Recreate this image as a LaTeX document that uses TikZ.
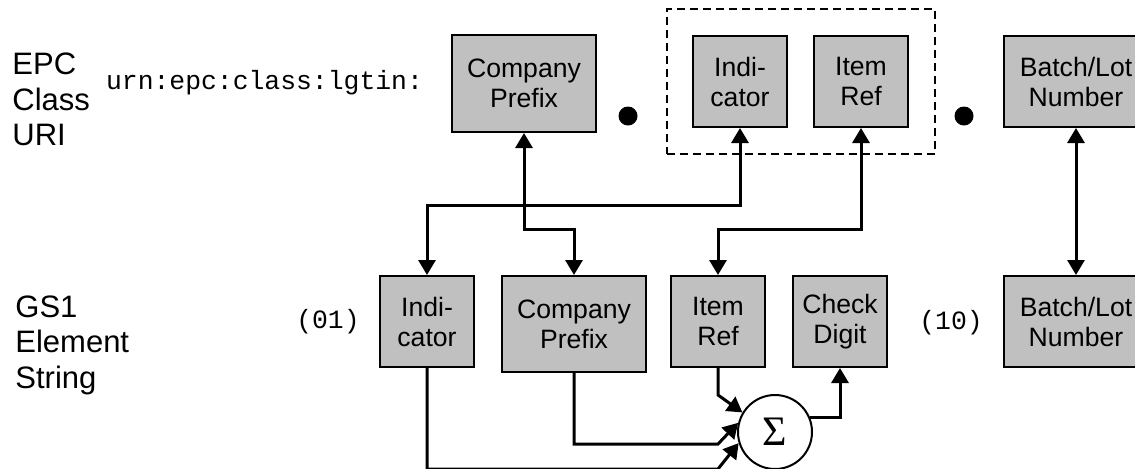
\documentclass[tikz,border=0pt]{standalone}
\usepackage{fontspec}
\setmainfont{Liberation Sans}
\setmonofont{Liberation Mono}
\newfontfamily\sigmafont{Liberation Serif}
\usetikzlibrary{arrows.meta, positioning, fit, calc}
\definecolor{fieldgray}{RGB}{192,192,192}

\begin{document}
\begin{tikzpicture}[x=0.5pt, y=-0.5pt,
        field/.style={draw, line width=1pt, fill=fieldgray, align=center, inner sep=0pt,
            minimum width=47pt, minimum height=45.5pt, font=\fontsize{13.3pt}{15pt}\selectfont},
        widefield/.style={field, minimum width=72pt},
        dot/.style={circle, fill, inner sep=0pt, minimum size=9.5pt},
        group/.style={draw, line width=1pt, dash pattern=on 4pt off 2.5pt, inner xsep=12.75pt, inner ysep=13pt},
        adder/.style={circle, draw, line width=1pt, inner sep=0pt, minimum size=37pt,
            font=\fontsize{21pt}{24pt}\sigmafont\selectfont},
        rowlabel/.style={align=left, inner sep=0pt, font=\fontsize{15.5pt}{17.8pt}\selectfont},
        code/.style={inner sep=0pt, font=\ttfamily\fontsize{13.2pt}{15pt}\selectfont},
        biarrow/.style={line width=1.5pt, {Triangle[length=7.5pt,width=8.5pt]}-{Triangle[length=7.5pt,width=8.5pt]}},
        feed/.style={line width=1.5pt, -{Triangle[length=7.5pt,width=8.5pt]}}]
    \useasboundingbox (0,0) rectangle (1135,468);

    % Row labels
    \node[rowlabel, anchor=west] (epcLabel) at (12,99.5) {EPC\\Class\\URI};
    \node[rowlabel, anchor=west] (gsLabel)  at (15,345)  {GS1\\Element\\String};

    % EPC class URI fields
    \node[code] (urn) at (264.5,83) {urn:epc:class:lgtin:};
    \node[widefield, minimum height=48.5pt, anchor=north west] (epcCP) at (451,34) {Company\\Prefix};
    \node[dot] (sepA) at (628,116) {};
    \node[field, anchor=north west] (epcInd) at (692,35) {Indi-\\cator};
    \node[field, right=12.5pt of epcInd] (epcItem) {Item\\Ref};
    \node[dot] (sepB) at (964,116) {};
    \node[widefield, anchor=north west] (epcBatch) at (1003,35) {Batch/Lot\\Number};
    \node[group, fit=(epcInd)(epcItem)] (serial) {};

    % GS1 element string fields
    \node[code] (aiGtin) at (328,322) {(01)};
    \node[field, anchor=north west] (gsInd) at (379,275) {Indi-\\cator};
    \node[widefield, minimum height=48pt, right=13pt of gsInd.north east, anchor=north west] (gsCP) {Company\\Prefix};
    \node[field, right=11.5pt of gsCP.north east, anchor=north west] (gsItem) {Item\\Ref};
    \node[field, right=13pt of gsItem] (gsCheck) {Check\\Digit};
    \node[code] (aiBatch) at (951,323) {(10)};
    \node[widefield, anchor=north west] (gsBatch) at (1003,275) {Batch/Lot\\Number};
    \node[adder] (sum) at (775,432) {Σ};

    % Mapping between the two forms
    \draw[biarrow] (epcCP.south) -- ++(0,96) -| (gsCP.north);
    \draw[biarrow] (epcInd.south) -- ++(0,77) -| (gsInd.north);
    \draw[biarrow] (epcItem.south) -- ++(0,101) -| (gsItem.north);
    \draw[biarrow] (epcBatch.south) -- (gsBatch.north);

    % Check digit sum
    \draw[feed] (gsItem.south) -- ++(0,27) -- (sum.149);
    \draw[feed] (gsCP.south) |- ($(gsItem.south)+(0,76)$) -- (sum.166);
    \draw[feed] (gsInd.south) |- ($(gsItem.south)+(0,101)$) -- (sum.197);
    \draw[feed] (sum.22) -| (gsCheck.south);
\end{tikzpicture}
\end{document}
